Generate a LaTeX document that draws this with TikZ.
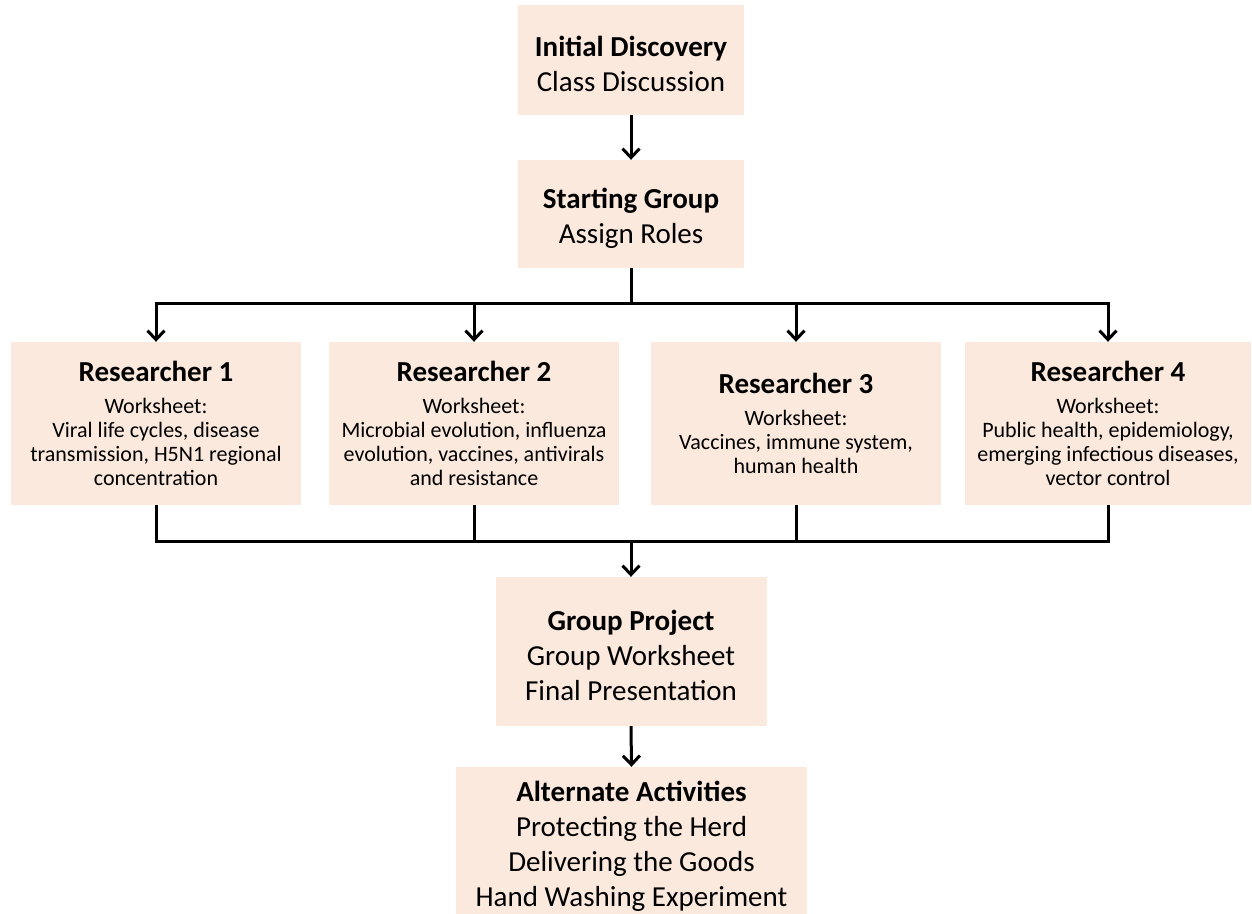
\documentclass[tikz,border=0pt]{standalone}
\usepackage{fontspec}
\setmainfont{Carlito}
\usetikzlibrary{arrows.meta}
\definecolor{boxfill}{RGB}{251,233,221}
\tikzset{
  box/.style={fill=boxfill, draw=none, inner sep=0pt, align=center, anchor=center},
  bigbox/.style={box, font=\fontsize{29}{35}\selectfont},
  resbox/.style={box, minimum width=290pt, minimum height=163pt, font=\fontsize{22}{24}\selectfont},
  conn/.style={line width=3pt, line join=miter},
  arr/.style={conn, -{Straight Barb[length=9pt,width=17pt,line width=3pt]}},
}
\newcommand{\rtitle}[1]{{\fontsize{29}{24}\selectfont\bfseries #1}\\[8pt]}
\newcommand{\bstrut}{\rule{0pt}{28pt}}
\begin{document}
\begin{tikzpicture}[x=1pt,y=-1pt]
\useasboundingbox (0,0) rectangle (1252,913);
\node[bigbox, minimum width=226pt, minimum height=110pt] (init) at (631,60)
  {\bstrut\textbf{Initial Discovery}\\Class Discussion};
\node[bigbox, minimum width=226pt, minimum height=108pt] (start) at (631,214)
  {\bstrut\textbf{Starting Group}\\Assign Roles};
\node[resbox] (r1) at (156,423.5)
  {\rtitle{Researcher 1}Worksheet:\\Viral life cycles, disease\\transmission, H5N1 regional\\concentration};
\node[resbox] (r2) at (474,423.5)
  {\rtitle{Researcher 2}Worksheet:\\Microbial evolution, influenza\\evolution, vaccines, antivirals\\and resistance};
\node[resbox] (r3) at (796,423.5)
  {\rtitle{Researcher 3}Worksheet:\\Vaccines, immune system,\\human health};
\node[resbox, minimum width=286pt] (r4) at (1108,423.5)
  {\rtitle{Researcher 4}Worksheet:\\Public health, epidemiology,\\emerging infectious diseases,\\vector control};
\node[bigbox, minimum width=271pt, minimum height=149pt] (gp) at (631,651.5)
  {\bstrut\textbf{Group Project}\\Group Worksheet\\Final Presentation};
\node[bigbox, minimum width=351pt, minimum height=156pt] (alt) at (631.5,845)
  {\rule{0pt}{22pt}\textbf{Alternate Activities}\\Protecting the Herd\\Delivering the Goods\\Hand Washing Experiment};
\coordinate (top) at (631,303);
\coordinate (bot) at (631,541);
\draw[arr] (init.south) -- (start.north);
\draw[conn] (start.south) -- (top);
\draw[arr] (top) -| (r1.north);
\draw[arr] (top) -| (r4.north);
\draw[arr] (top -| r2.north) -- (r2.north);
\draw[arr] (top -| r3.north) -- (r3.north);
\draw[conn] (r1.south) |- (bot);
\draw[conn] (r4.south) |- (bot);
\draw[conn] (r2.south) -- (r2.south |- bot);
\draw[conn] (r3.south) -- (r3.south |- bot);
\draw[arr] (bot) -- (gp.north);
\draw[arr] (gp.south) -- (alt.north);
\end{tikzpicture}
\end{document}
